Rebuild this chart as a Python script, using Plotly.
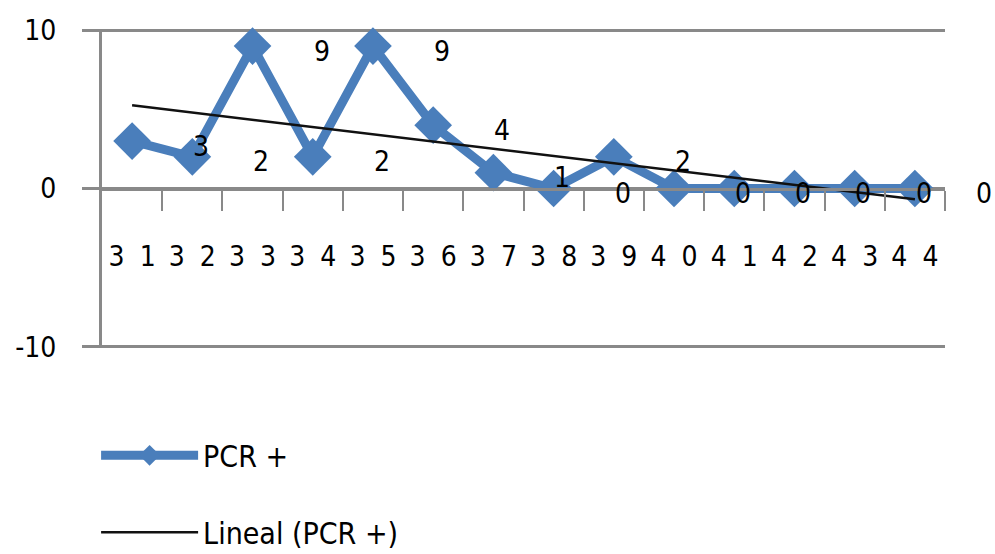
import numpy as np
import plotly.graph_objects as go

categories = ["31", "32", "33", "34", "35", "36", "37", "38", "39", "40", "41", "42", "43", "44"]
pcr_pos = [3, 2, 9, 2, 9, 4, 1, 0, 2, 0, 0, 0, 0, 0]
y_ticks = [-10, 0, 10]
y_tick_text = ["-10", "0", "10"]

FONT = "DejaVu Sans Condensed, Liberation Sans, Arial, sans-serif"
BLUE = "#4A7EBB"
GRAY = "#898989"

xpos = list(range(len(categories)))
# linear trend (least squares) from the data, as Excel's "Lineal" trendline
coef = np.polyfit(np.arange(1, len(pcr_pos) + 1), pcr_pos, 1)
trend = list(np.polyval(coef, np.arange(1, len(pcr_pos) + 1)))

fig = go.Figure()
fig.add_trace(go.Scatter(
    x=xpos, y=pcr_pos, mode="lines+markers", name="PCR +",
    line=dict(color=BLUE, width=9),
    marker=dict(symbol="diamond", size=29, color=BLUE),
    legendgroup="a", cliponaxis=False,
))
fig.add_trace(go.Scatter(
    x=xpos, y=trend, mode="lines", name="Lineal (PCR +)",
    line=dict(color="#111111", width=2.5),
    legendgroup="b", cliponaxis=False,
))

for xi, v in zip(xpos, pcr_pos):
    fig.add_annotation(x=xi, y=v, text=str(v), showarrow=False,
                       xshift=69, yshift=-5,
                       font=dict(family=FONT, size=28, color="#000000"))

tick_text = ["\u2002\u200a".join(list(c)) for c in categories]

fig.update_layout(
    width=995, height=554,
    paper_bgcolor="white", plot_bgcolor="white",
    margin=dict(l=102, r=50, t=29, b=206, autoexpand=False),
    font=dict(family=FONT, size=28, color="#000000"),
    showlegend=True,
    legend=dict(x=-0.007, y=-0.255, xanchor="left", yanchor="top",
                orientation="v", tracegroupgap=35, itemwidth=97,
                font=dict(family=FONT, size=30, color="#000000"),
                bgcolor="rgba(0,0,0,0)"),
    xaxis=dict(
        range=[-0.5, len(categories) - 0.5],
        tickmode="array", tickvals=xpos, ticktext=tick_text,
        ticks="", ticklen=0, showgrid=False, zeroline=False,
        showline=True, linecolor=GRAY, linewidth=3,
        anchor="free", position=0.5, automargin=False,
        ticklabelstandoff=42,
        tickfont=dict(family=FONT, size=28, color="#000000"),
        minor=dict(tickvals=[i + 0.5 for i in xpos], ticks="outside",
                   ticklen=20, tickwidth=2, tickcolor=GRAY, showgrid=False),
    ),
    yaxis=dict(
        range=[-10.08, 10.08], tickmode="array", tickvals=y_ticks, ticktext=y_tick_text,
        ticks="outside", ticklen=17, tickwidth=3, tickcolor=GRAY,
        showgrid=True, gridcolor=GRAY, gridwidth=3,
        zeroline=False, showline=True, linecolor=GRAY, linewidth=3,
        ticklabelstandoff=20, automargin=False,
        tickfont=dict(family=FONT, size=28, color="#000000"),
    ),
)

fig.write_html("out.html", config={"displayModeBar": False},
               post_script="document.body.style.margin='0px';document.body.style.overflow='hidden';")
